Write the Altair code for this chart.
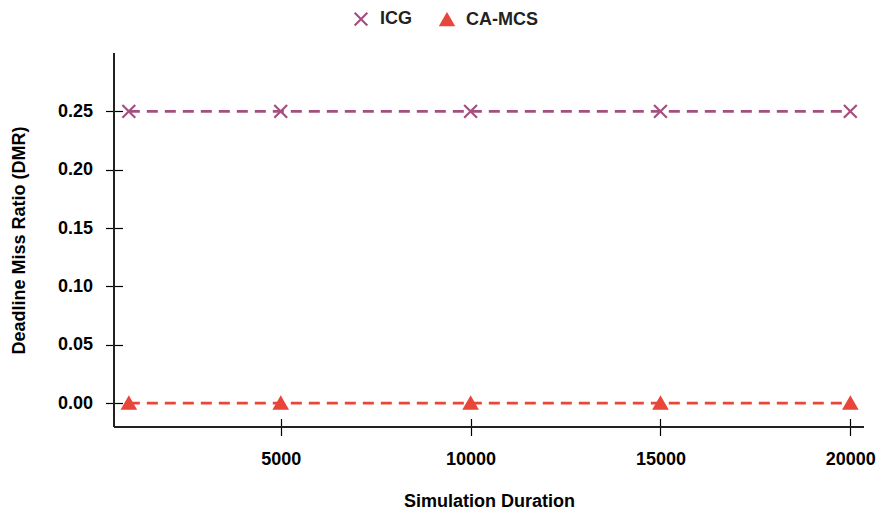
import altair as alt
import pandas as pd

durations = [1000, 5000, 10000, 15000, 20000]
icg_dmr = [0.25, 0.25, 0.25, 0.25, 0.25]
camcs_dmr = [0.0, 0.0, 0.0, 0.0, 0.0]
series_names = ["ICG", "CA-MCS"]
series_colors = ["#a4507f", "#e8463a"]
x_ticks = [5000, 10000, 15000, 20000]
y_ticks = [0.0, 0.05, 0.10, 0.15, 0.20, 0.25]

rows = []
for d, v in zip(durations, icg_dmr):
    rows.append({"Duration": d, "DMR": v, "Series": "ICG"})
for d, v in zip(durations, camcs_dmr):
    rows.append({"Duration": d, "DMR": v, "Series": "CA-MCS"})
df = pd.DataFrame(rows)

W, H = 750, 374
FONT = "Liberation Sans"

xscale = alt.Scale(domain=[610, 20360], nice=False, zero=False)
yscale = alt.Scale(domain=[-0.0205, 0.3], nice=False, zero=False)
cscale = alt.Scale(domain=series_names, range=series_colors)
sscale = alt.Scale(domain=series_names,
                   range=["M-1,-1L1,1M-1,1L1,-1", "triangle-up"])

xaxis = alt.Axis(values=x_ticks, format="d", domain=False, grid=False, offset=-8.5,
                 tickSize=17, tickColor="black", tickWidth=1.2,
                 labelPadding=15, title="Simulation Duration", titlePadding=24)
yaxis = alt.Axis(values=y_ticks, format=".2f", domain=False, grid=False,
                 offset=-8.5, tickSize=17, tickColor="black", tickWidth=1.2,
                 labelPadding=13, title="Deadline Miss Ratio (DMR)", titlePadding=29)

legend = alt.Legend(title=None, orient="none", direction="horizontal",
                    legendX=238, legendY=-43, padding=0, symbolSize=160,
                    symbolStrokeWidth=2.2, columnPadding=23, labelOffset=10,
                    labelFontSize=18, labelFont=FONT,
                    labelFontWeight="bold", labelColor="#222")

base = alt.Chart(df)

lines = base.mark_line(strokeDash=[11, 7], strokeWidth=2.6).encode(
    x=alt.X("Duration:Q", scale=xscale, axis=xaxis),
    y=alt.Y("DMR:Q", scale=yscale, axis=yaxis),
    color=alt.Color("Series:N", scale=cscale, sort=series_names),
    detail="Series:N",
)

points = base.mark_point(filled=False, size=165, strokeWidth=2.2, opacity=1).encode(
    x=alt.X("Duration:Q", scale=xscale),
    y=alt.Y("DMR:Q", scale=yscale),
    color=alt.Color("Series:N", scale=cscale, sort=series_names, legend=legend),
    fill=alt.Fill("Series:N", scale=cscale, sort=series_names, legend=legend),
    shape=alt.Shape("Series:N", scale=sscale, sort=series_names, legend=legend),
)

xdomain = alt.Chart(df).mark_rule(color="#222", strokeWidth=1.5).encode(
    x=alt.value(0), x2=alt.value(W), y=alt.value(H))
ydomain = alt.Chart(df).mark_rule(color="#222", strokeWidth=1.5).encode(
    x=alt.value(0), y=alt.value(0), y2=alt.value(H))

chart = alt.layer(lines, points, xdomain, ydomain).properties(
    width=W, height=H,
    autosize=alt.AutoSizeParams(type="none"),
    padding={"left": 106, "top": 45, "right": 12, "bottom": 84},
    background="white",
).configure_view(stroke=None).configure_axis(
    labelFont=FONT, labelFontSize=18, labelFontWeight="bold", labelColor="black",
    titleFont=FONT, titleFontSize=18, titleFontWeight="bold", titleColor="black",
)

chart.save("out.html", embed_options={"renderer": "svg", "actions": False})
